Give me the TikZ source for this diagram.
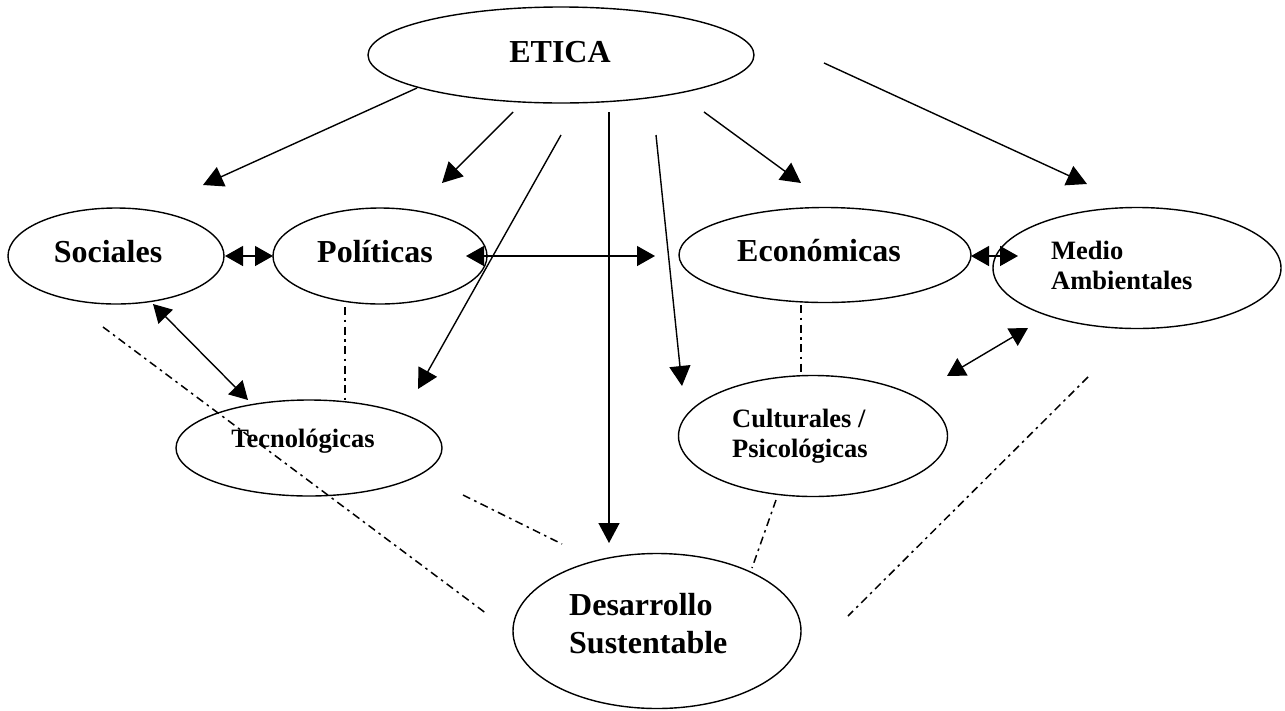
\documentclass[tikz,border=0pt]{standalone}
\usepackage{fontspec}
\setmainfont{Liberation Serif}
\usetikzlibrary{arrows.meta,shapes.geometric}
\tikzset{
  oval/.style={draw,ellipse,line width=1.4pt,inner sep=0pt},
  lbl/.style={font=\bfseries\fontsize{32}{36}\selectfont,inner sep=0pt},
  slbl/.style={font=\bfseries\fontsize{26.5}{30}\selectfont,inner sep=0pt},
  arr/.style={line width=1.4pt,-{Triangle[length=20pt,width=21pt]}},
  darr/.style={line width=1.4pt,{Triangle[length=18pt,width=20pt]}-{Triangle[length=18pt,width=20pt]}},
  dd/.style={line width=1.5pt,dash pattern=on 8pt off 4.5pt on 2.5pt off 4.5pt}
}
\begin{document}
\begin{tikzpicture}[x=1pt,y=-1pt]
\useasboundingbox (0,0) rectangle (1285,710);
% ellipses
\node[oval,minimum width=386pt,minimum height=96pt] (etica) at (561,55) {};
\node[oval,minimum width=216pt,minimum height=96pt] (soc) at (116,256) {};
\node[oval,minimum width=214pt,minimum height=96pt] (pol) at (380,256) {};
\node[oval,minimum width=292pt,minimum height=95pt] (eco) at (825,255) {};
\node[oval,minimum width=288pt,minimum height=121pt] (med) at (1137,268) {};
\node[oval,minimum width=266pt,minimum height=96pt] (tec) at (309,448) {};
\node[oval,minimum width=269pt,minimum height=121pt] (cul) at (813,436) {};
\node[oval,minimum width=288pt,minimum height=155pt] (des) at (657,631) {};
% labels
\node[lbl,anchor=base] (tEtica) at (560,62) {ETICA};
\node[lbl,anchor=base] (tSoc) at (108,262) {Sociales};
\node[lbl,anchor=base] (tPol) at (375,262) {Políticas};
\node[lbl,anchor=base] (tEco) at (819,261) {Económicas};
\node[slbl,anchor=base west] (tMed1) at (1051,259) {Medio};
\node[slbl,anchor=base west] (tMed2) at (1051,289) {Ambientales};
\node[slbl,anchor=base] (tTec) at (303,447) {Tecnológicas};
\node[slbl,anchor=base west] (tCul1) at (732,427) {Culturales /};
\node[slbl,anchor=base west] (tCul2) at (732,457) {Psicológicas};
\node[lbl,anchor=base west] (tDes1) at (569,615) {Desarrollo};
\node[lbl,anchor=base west] (tDes2) at (569,653) {Sustentable};
% coordinates
\coordinate (a1s) at (417,88);  \coordinate (a1e) at (203,185);
\coordinate (a2s) at (513,112); \coordinate (a2e) at (442,183);
\coordinate (a3s) at (561,135); \coordinate (a3e) at (418,389);
\coordinate (a4s) at (609,112); \coordinate (a4e) at (609,543);
\coordinate (a5s) at (656,135); \coordinate (a5e) at (682,386);
\coordinate (a6s) at (704,112); \coordinate (a6e) at (801,183);
\coordinate (a7s) at (824,63);  \coordinate (a7e) at (1087,184);
\coordinate (b1s) at (225,256); \coordinate (b1e) at (273,256);
\coordinate (b2s) at (466,256); \coordinate (b2e) at (655,256);
\coordinate (b3s) at (971,256); \coordinate (b3e) at (1018,256);
\coordinate (b4s) at (153,304); \coordinate (b4e) at (248,400);
\coordinate (b5s) at (947,376); \coordinate (b5e) at (1028,328);
\coordinate (d1s) at (103,327); \coordinate (d1e) at (487,614);
\coordinate (d2s) at (345,307); \coordinate (d2e) at (345,402);
\coordinate (d3s) at (463,495); \coordinate (d3e) at (562,544);
\coordinate (d4s) at (801,305); \coordinate (d4e) at (801,375);
\coordinate (d5s) at (776,500); \coordinate (d5e) at (752,568);
\coordinate (d6s) at (1088,377); \coordinate (d6e) at (848,616);
% arrows from ETICA
\draw[arr] (a1s) -- (a1e);
\draw[arr] (a2s) -- (a2e);
\draw[arr] (a3s) -- (a3e);
\draw[arr] (a4s) -- (a4e);
\draw[arr] (a5s) -- (a5e);
\draw[arr] (a6s) -- (a6e);
\draw[arr] (a7s) -- (a7e);
% double arrows
\draw[darr] (b1s) -- (b1e);
\draw[darr] (b2s) -- (b2e);
\draw[darr] (b3s) -- (b3e);
\draw[darr] (b4s) -- (b4e);
\draw[darr] (b5s) -- (b5e);
% dash-dot lines
\draw[dd] (d1s) -- (d1e);
\draw[dd] (d2s) -- (d2e);
\draw[dd] (d3s) -- (d3e);
\draw[dd] (d4s) -- (d4e);
\draw[dd] (d5s) -- (d5e);
\draw[dd] (d6s) -- (d6e);
\end{tikzpicture}
\end{document}
